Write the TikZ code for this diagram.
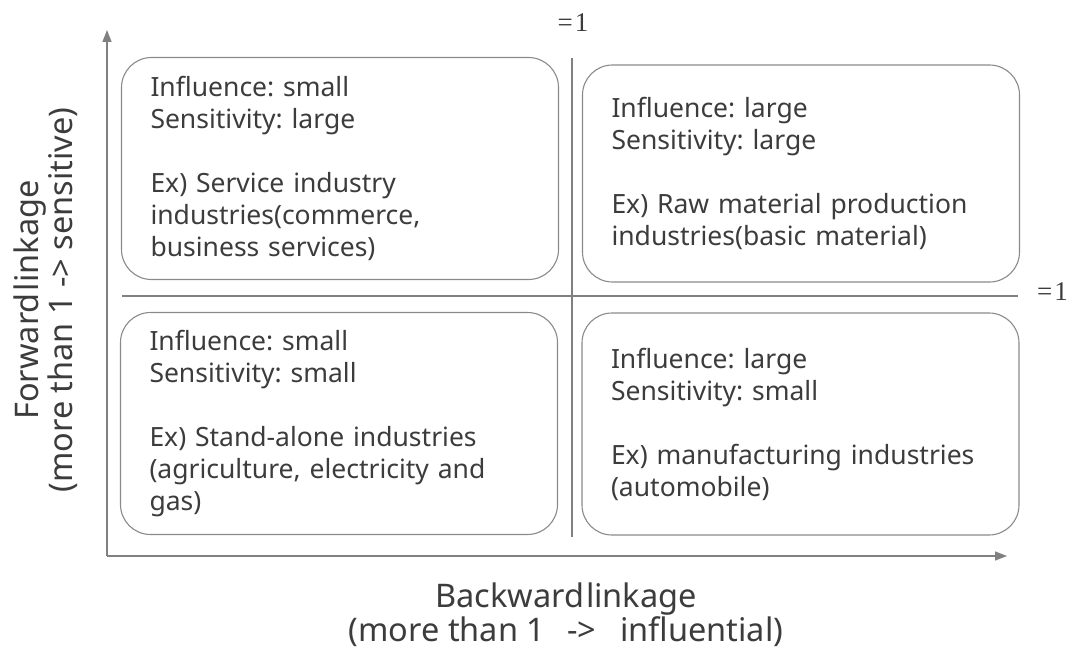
\documentclass[tikz,border=0pt]{standalone}
\usepackage{fontspec}
\setmainfont{Noto Sans}
\newfontfamily\eqfont{Liberation Serif}
\usetikzlibrary{arrows.meta}
\definecolor{ink}{HTML}{3C3C3C}
\definecolor{rulegray}{HTML}{808080}
\definecolor{boxgray}{HTML}{8A8A8A}
\frenchspacing
\begin{document}
\begin{tikzpicture}[x=1pt,y=-1pt,
  quadbox/.style={draw=boxgray, line width=1.1pt, rounded corners=30pt,
    minimum width=437pt, minimum height=222pt, inner xsep=29pt, inner ysep=0pt,
    text width=379pt, align=left, text=ink,
    font=\fontsize{26.5}{32}\selectfont},
  axisline/.style={draw=rulegray, line width=1.4pt,
    -{Triangle[length=12pt,width=9pt]}},
  divider/.style={draw=rulegray, line width=1.2pt},
  axislabel/.style={align=center, text=ink, inner sep=0pt,
    font=\fontsize{32.5}{34}\selectfont},
  unitlabel/.style={text=ink, inner sep=0pt, font=\eqfont\fontsize{27}{30}\selectfont}]

\useasboundingbox (0,0) rectangle (1075,652);

% axes
\coordinate (O) at (107,556);
\coordinate (ytip) at (107,30);
\coordinate (xtip) at (1007,556);
\draw[axisline] (O) -- (ytip);
\draw[axisline] (O) -- (xtip);

% quadrant dividers at value 1
\coordinate (vtop) at (572,58);
\coordinate (vbot) at (572,537);
\coordinate (hleft) at (122,296);
\coordinate (hright) at (1018,296);
\draw[divider] (vtop) -- (vbot);
\draw[divider] (hleft) -- (hright);
\node[unitlabel, anchor=base] (vone) at (573,32) {=\hspace{2pt}1};
\node[unitlabel, anchor=base west] (hone) at (1037,300) {=\hspace{2pt}1};

% quadrants
\node[quadbox] (tl) at (340,168.5) {Influence: small\\Sensitivity: large\\[32pt]Ex) Service industry\\industries(commerce,\\business services)};
\node[quadbox, minimum height=217pt] (tr) at (801,173.5) {Influence: large\\Sensitivity: large\\[32pt]Ex) Raw material production\\industries(basic material)};
\node[quadbox] (bl) at (339,423.5) {Influence: small\\Sensitivity: small\\[32pt]Ex) Stand-alone industries\\(agriculture, electricity and\\gas)};
\node[quadbox] (br) at (800.5,424) {Influence: large\\Sensitivity: small\\[32pt]Ex) manufacturing industries\\(automobile)};

% axis titles
\node[axislabel, anchor=north] (xlab) at (566,583) {Backward\hspace{2pt}linkage\\(more than 1\hspace{22pt}->\hspace{24pt}influential)};
\node[axislabel, rotate=90] (ylab) at (46,300) {Forward\hspace{2pt}linkage\\(more than 1 -> sensitive)};
\end{tikzpicture}
\end{document}
